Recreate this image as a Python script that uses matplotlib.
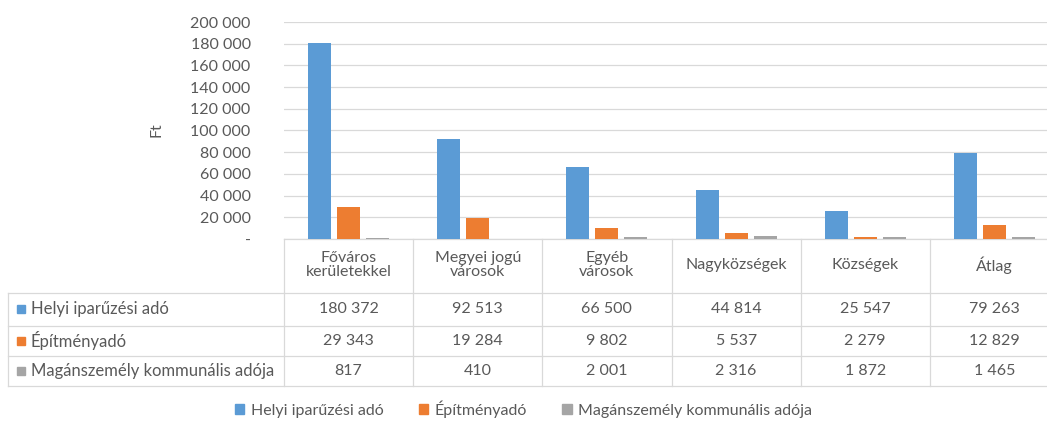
import matplotlib
matplotlib.use("Agg")
import matplotlib.pyplot as plt
from matplotlib.lines import Line2D
from matplotlib.patches import Patch, Rectangle
from matplotlib.transforms import blended_transform_factory
import numpy as np

# Data
categories = ["Főváros\nkerületekkel", "Megyei jogú\nvárosok", "Egyéb\nvárosok",
              "Nagyközségek", "Községek", "Átlag"]
series_names = ["Helyi iparűzési adó", "Építményadó", "Magánszemély kommunális adója"]
helyi = [180372, 92513, 66500, 44814, 25547, 79263]
epitmeny = [29343, 19284, 9802, 5537, 2279, 12829]
magan = [817, 410, 2001, 2316, 1872, 1465]
y_ticks = [0, 20000, 40000, 60000, 80000, 100000, 120000, 140000, 160000, 180000, 200000]

series = [helyi, epitmeny, magan]
colors = ['#5B9BD5', '#ED7D31', '#A5A5A5']
text_c = '#595959'
line_c = '#D9D9D9'
fs = 11.5

plt.rcParams['font.family'] = ['Lato', 'DejaVu Sans']

W, H = 1047, 424
fig = plt.figure(figsize=(W / 100, H / 100), dpi=100)


def fx(px):
    return px / W


def fy(py):
    return 1 - py / H


def fmt(v):
    if v == 0:
        return "-"
    return f"{v:,}".replace(",", "\u00a0")


# plot area (the table runs a bit past the right edge of the picture, as in the source)
ax = fig.add_axes([fx(284), fy(239), fx(1059) - fx(284), fy(22) - fy(239)])
x = np.arange(len(categories))
offsets = [-0.225, 0, 0.225]
for vals, off, c in zip(series, offsets, colors):
    ax.bar(x + off, vals, width=0.178, color=c, zorder=3)

ax.set_xlim(-0.5, len(categories) - 0.5)
ax.set_ylim(0, 200000)
ax.set_yticks(y_ticks)
ax.set_yticklabels([fmt(v) for v in y_ticks], color=text_c, fontsize=fs)
ax.set_xticks([])
ax.tick_params(axis='y', length=0, pad=24)
ax.yaxis.grid(True, color=line_c, linewidth=0.9)
ax.set_axisbelow(True)
for s in ['top', 'right', 'left']:
    ax.spines[s].set_visible(False)
ax.spines['bottom'].set_color(line_c)
ax.spines['bottom'].set_linewidth(0.9)

fig.text(fx(157), fy(130), "Ft", rotation=90, ha='center', va='center',
         color=text_c, fontsize=fs)

# data table under the chart
trans = blended_transform_factory(ax.transData, fig.transFigure)
row_lines = [293, 326, 356, 386]
row_mid = [309, 341, 371]

for yl in row_lines:
    fig.add_artist(Line2D([fx(8), 1.0], [fy(yl), fy(yl)], color=line_c, lw=0.9,
                          transform=fig.transFigure))
for b in np.arange(len(categories) + 1) - 0.5:
    fig.add_artist(Line2D([b, b], [fy(239), fy(386)], color=line_c, lw=0.9,
                          transform=trans))
fig.add_artist(Line2D([fx(8), fx(8)], [fy(293), fy(386)], color=line_c, lw=0.9,
                      transform=fig.transFigure))

for i, cat in enumerate(categories):
    ax.text(i, fy(265), cat, transform=trans, ha='center', va='center',
            multialignment='center', linespacing=1.05, color=text_c, fontsize=fs)

for r, (name, vals, c) in enumerate(zip(series_names, series, colors)):
    yc = row_mid[r]
    fig.add_artist(Rectangle((fx(17), fy(yc + 4)), fx(8), 8 / H, color=c,
                             transform=fig.transFigure))
    fig.text(fx(31), fy(yc), name, ha='left', va='center', color=text_c, fontsize=12)
    for i, v in enumerate(vals):
        ax.text(i, fy(yc), fmt(v), transform=trans, ha='center', va='center',
                color=text_c, fontsize=fs)

handles = [Patch(color=c) for c in colors]
fig.legend(handles, series_names, loc='center', bbox_to_anchor=(0.5, fy(409)),
           ncol=3, frameon=False, handlelength=0.6, handleheight=0.6,
           handletextpad=0.4, columnspacing=2.2, fontsize=fs, labelcolor=text_c)

fig.savefig("out.png", dpi=100)
